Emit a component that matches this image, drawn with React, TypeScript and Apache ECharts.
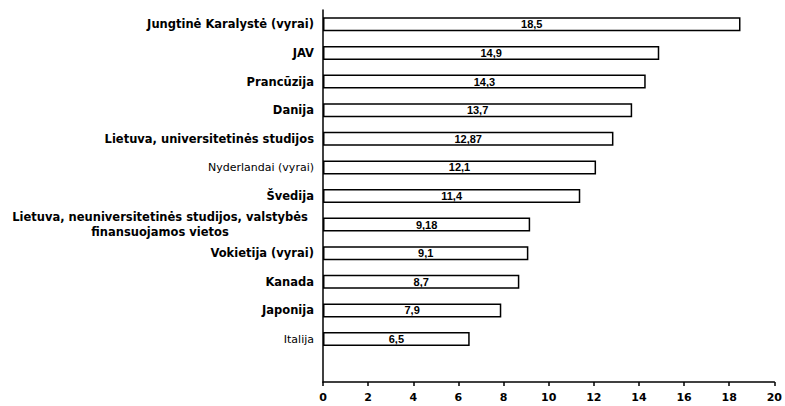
import React, { useEffect, useRef } from "react";
import * as echarts from "echarts";

const categories = [
  "Jungtinė Karalystė (vyrai)",
  "JAV",
  "Prancūzija",
  "Danija",
  "Lietuva, universitetinės studijos",
  "Nyderlandai (vyrai)",
  "Švedija",
  "Lietuva, neuniversitetinės studijos, valstybės\nfinansuojamos vietos",
  "Vokietija (vyrai)",
  "Kanada",
  "Japonija",
  "Italija",
];
const values = [18.5, 14.9, 14.3, 13.7, 12.87, 12.1, 11.4, 9.18, 9.1, 8.7, 7.9, 6.5];
const normalWeight = ["Nyderlandai (vyrai)", "Italija"];
const xTicks = { min: 0, max: 20, interval: 2 };

export default function App() {
  const ref = useRef<HTMLDivElement>(null);
  useEffect(() => {
    if (!ref.current) return;
    const chart = echarts.init(ref.current, null, { renderer: "svg" });
    const font = "'Liberation Sans', Arial, sans-serif";
    const wide = "'DejaVu Sans', 'Liberation Sans', sans-serif";
    chart.setOption({
      animation: false,
      backgroundColor: "#ffffff",
      grid: { left: 323, right: 9, top: 10, bottom: 24, containLabel: false },
      xAxis: {
        type: "value",
        min: xTicks.min,
        max: xTicks.max,
        interval: xTicks.interval,
        splitLine: { show: false },
        axisLine: { show: true, lineStyle: { color: "#000", width: 1.5 } },
        axisTick: { show: true, length: 4, lineStyle: { color: "#000", width: 1.5 } },
        axisLabel: {
          color: "#000",
          fontFamily: wide,
          fontWeight: "bold",
          fontSize: 11,
          margin: 10,
        },
      },
      yAxis: {
        type: "category",
        inverse: true,
        data: [...categories, ""],
        axisLine: { show: true, lineStyle: { color: "#000", width: 1.5 } },
        axisTick: { show: false },
        splitLine: { show: false },
        axisLabel: {
          color: "#000",
          fontFamily: wide,
          fontSize: 11.5,
          margin: 9,
          interval: 0,
          formatter: (v: string) => {
            if (!v) return "";
            if (v.includes("\n")) {
              const [a, b] = v.split("\n");
              return `{c|${a}}\n{d|${b}}`;
            }
            return normalWeight.includes(v) ? `{n|${v}}` : `{b|${v}}`;
          },
          rich: {
            b: { fontFamily: wide, fontSize: 11.5, fontWeight: "bold", color: "#000" },
            n: { fontFamily: wide, fontSize: 11, fontWeight: "normal", color: "#000" },
            c: {
              fontFamily: wide,
              fontSize: 11.5,
              fontWeight: "bold",
              color: "#000",
              width: 308,
              align: "center",
              lineHeight: 15,
            },
            d: {
              fontFamily: wide,
              fontSize: 11.5,
              fontWeight: "bold",
              color: "#000",
              width: 288,
              align: "center",
              lineHeight: 15,
            },
          },
        },
      },
      series: [
        {
          type: "bar",
          data: values,
          barWidth: 14,
          itemStyle: { color: "#ffffff", borderColor: "#000", borderWidth: 1.5 },
          label: {
            show: true,
            position: "inside",
            color: "#000",
            fontFamily: font,
            fontWeight: "bold",
            fontSize: 11,
            formatter: (p: any) => String(p.value).replace(".", ","),
          },
        },
      ],
    });
    return () => chart.dispose();
  }, []);
  return (
    <div
      ref={ref}
      style={{ position: "fixed", left: 0, top: 0, width: 785, height: 406 }}
    />
  );
}
